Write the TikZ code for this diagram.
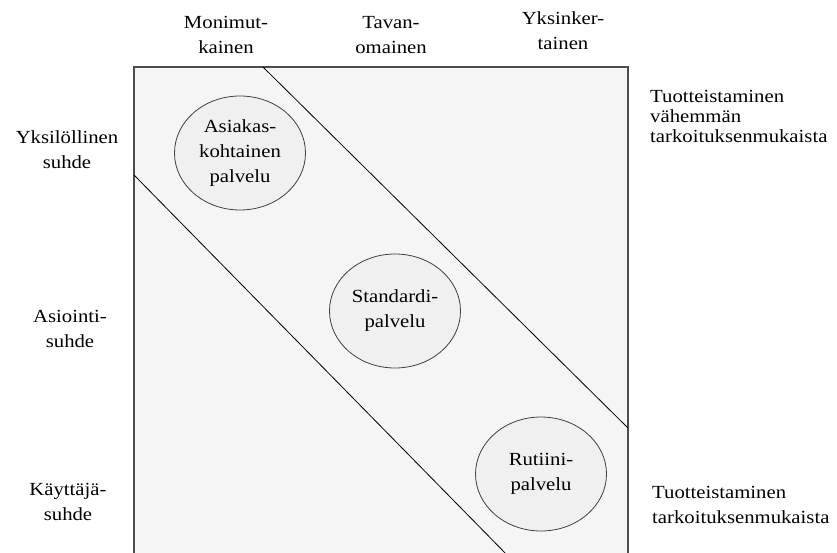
\documentclass[tikz,border=0pt]{standalone}
\usepackage{fontspec}
\setmainfont{Liberation Serif}[FakeStretch=1.12]
\usetikzlibrary{shapes.geometric}
\begin{document}
\begin{tikzpicture}[x=1pt,y=-1pt,
  lbl/.style={align=center,inner sep=0pt,font=\fontsize{18.5}{25}\selectfont},
  side/.style={align=left,anchor=west,inner sep=0pt},
  svc/.style={ellipse,draw=black!75,line width=0.8pt,fill=black!6,
    minimum width=131pt,minimum height=114pt,inner sep=0pt,align=center,
    font=\fontsize{18.5}{25}\selectfont},
  divider/.style={draw=black,line width=0.8pt}]
\useasboundingbox (0,0) rectangle (837,553);
% frame of the matrix, open at the bottom
\fill[black!4] (134,67) rectangle (628,570);
\draw[draw=black!70,line width=1.3pt] (134,570) -- (134,67) -- (628,67) -- (628,570);
% diagonal band borders
\coordinate (u1) at (263,67);
\coordinate (u2) at (628,428);
\coordinate (l1) at (134,175);
\coordinate (l2) at (512,560);
\draw[divider] (u1) -- (u2);
\draw[divider] (l1) -- (l2);
% service types
\node[svc] (asiakas) at (240,153) {Asiakas-\\kohtainen\\palvelu};
\node[svc] (standardi) at (395,311) {Standardi-\\palvelu};
\node[svc] (rutiini) at (541,474) {Rutiini-\\palvelu};
% column headings
\node[lbl] (monimut) at (226,35) {Monimut-\\kainen};
\node[lbl] (tavan) at (391,35) {Tavan-\\omainen};
\node[lbl] (yksinker) at (563,31) {Yksinker-\\tainen};
% row headings
\node[lbl] (yksilo) at (67,150) {Yksilöllinen\\suhde};
\node[lbl] (asiointi) at (70,329) {Asiointi-\\suhde};
\node[lbl] (kayttaja) at (68,502) {Käyttäjä-\\suhde};
% productisation notes
\node[side,font=\fontsize{18.5}{20}\selectfont] (vahemman) at (650,116)
  {Tuotteistaminen\\vähemmän\\tarkoituksenmukaista};
\node[side,font=\fontsize{18.5}{25}\selectfont] (tarkoitus) at (652,505)
  {Tuotteistaminen\\tarkoituksenmukaista};
\end{tikzpicture}
\end{document}
